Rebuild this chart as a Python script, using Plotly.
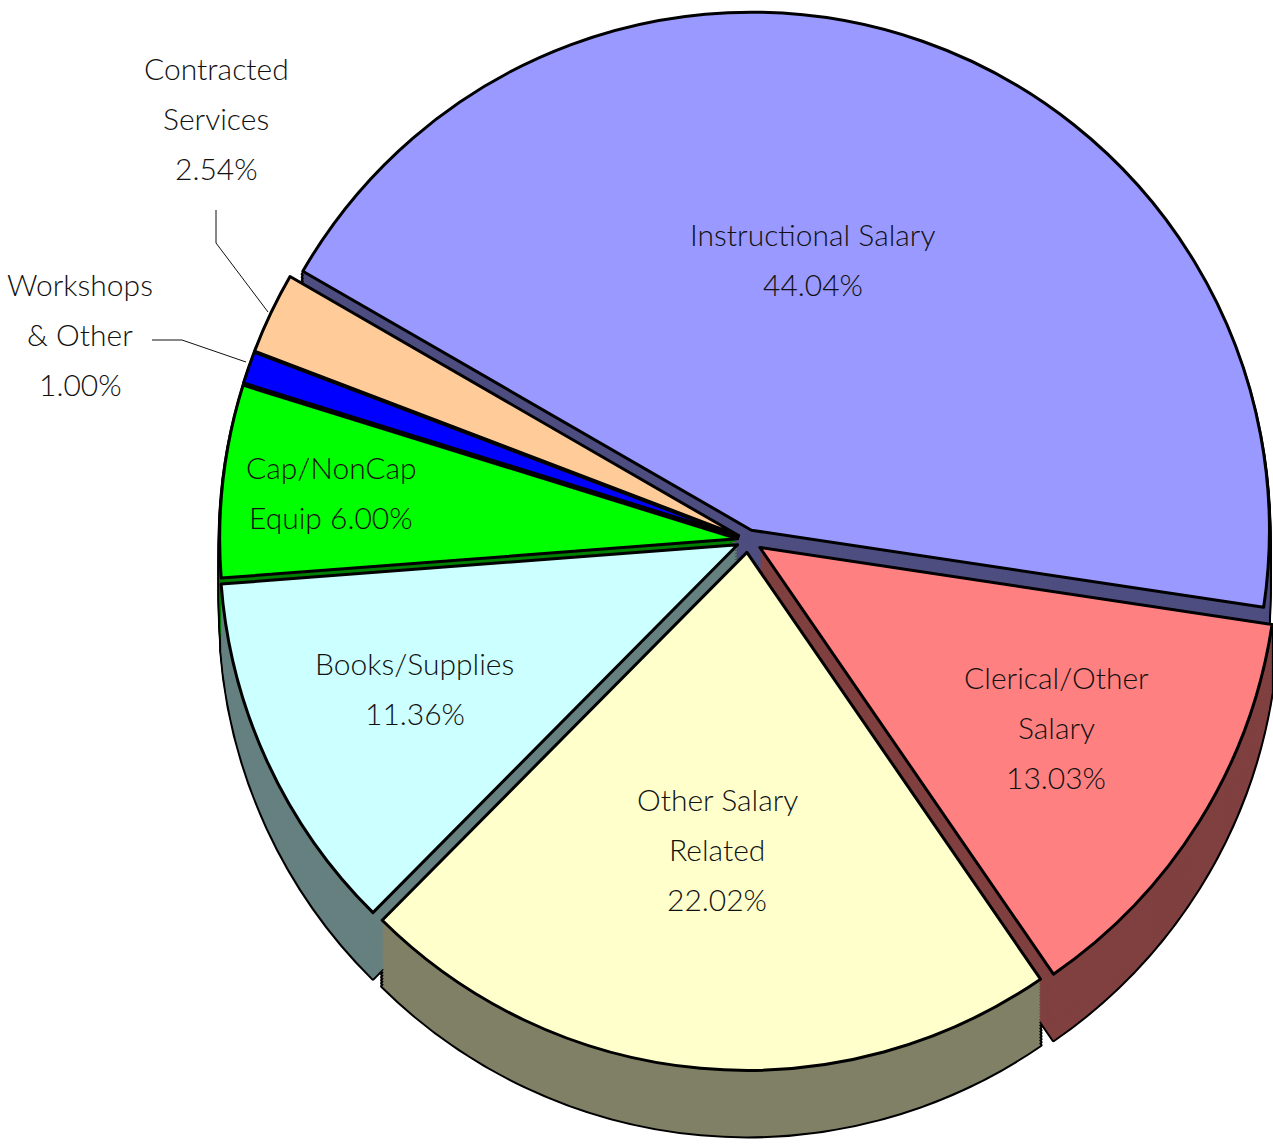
import plotly.graph_objects as go

categories = ["Instructional Salary", "Clerical/Other Salary", "Other Salary Related",
              "Books/Supplies", "Cap/NonCap Equip", "Workshops & Other", "Contracted Services"]
values = [44.04, 13.03, 22.02, 11.36, 6.00, 1.00, 2.54]
top_colors = ["#9999FF", "#FF8080", "#FFFFCC", "#CCFFFF", "#00FF00", "#0000FF", "#FFCC99"]
side_colors = ["#4D4D80", "#804040", "#808066", "#668080", "#008000", "#000080", "#806650"]
pulls = [0.02, 0.027, 0.024, 0.022, 0.02, 0.02, 0.02]
label_lines = [
    ["Instructional Salary", "44.04%"],
    ["Clerical/Other", "Salary", "13.03%"],
    ["Other Salary", "Related", "22.02%"],
    ["Books/Supplies", "11.36%"],
    ["Cap/NonCap", "Equip 6.00%"],
    ["Workshops", "& Other", "1.00%"],
    ["Contracted", "Services", "2.54%"],
]
label_centers = [(813, 234), (1056, 677), (717, 799), (415, 663), (331, 467), (80, 284), (216, 68)]

W, H = 1282, 1144
CX, CY = 748, 540
DOMAIN_W = 1064
DEPTH = 66
STEP = 3
ROT = -60.0


def pie(offset, colors, line_color, line_width):
    half = DOMAIN_W / 2
    cy = CY + offset
    return go.Pie(
        labels=categories, values=values, sort=False, direction="clockwise", rotation=ROT,
        pull=pulls, textinfo="none", hoverinfo="label+percent", showlegend=False,
        marker=dict(colors=colors, line=dict(color=line_color, width=line_width)),
        domain=dict(x=[(CX - half) / W, (CX + half) / W], y=[1 - (cy + half) / H, 1 - (cy - half) / H]),
    )


offsets = list(range(DEPTH, 0, -STEP))
fig = go.Figure()
# silhouette of the extruded side, then its fill, then the top face
for off in offsets:
    fig.add_trace(pie(off, side_colors, "#000000", 4))
for off in offsets:
    fig.add_trace(pie(off, side_colors, "rgba(0,0,0,0)", 0))
fig.add_trace(pie(0, top_colors, "#000000", 3))

annotations = []
for lines, (lx, ly) in zip(label_lines, label_centers):
    for i, text in enumerate(lines):
        annotations.append(dict(
            x=lx / W, y=1 - (ly + 50 * i) / H, xref="paper", yref="paper", text=text, showarrow=False,
            xanchor="center", yanchor="middle",
            font=dict(family="Lato, 'Open Sans', sans-serif", size=30, color="#111111", weight=300),
        ))

leaders = [[(216, 210), (216, 243), (268, 312)], [(152, 340), (182, 340), (246, 362)]]
shapes = []
for pts in leaders:
    path = "M " + " L ".join(f"{x / W} {1 - y / H}" for x, y in pts)
    shapes.append(dict(type="path", xref="paper", yref="paper", path=path,
                       line=dict(color="#111111", width=1)))

fig.update_layout(width=W, height=H, margin=dict(l=0, r=0, t=0, b=0), paper_bgcolor="white",
                  plot_bgcolor="white", annotations=annotations, shapes=shapes)
fig.write_html("out.html", config={"displayModeBar": False},
               post_script="document.body.style.margin='0';document.documentElement.style.overflow='hidden';")
